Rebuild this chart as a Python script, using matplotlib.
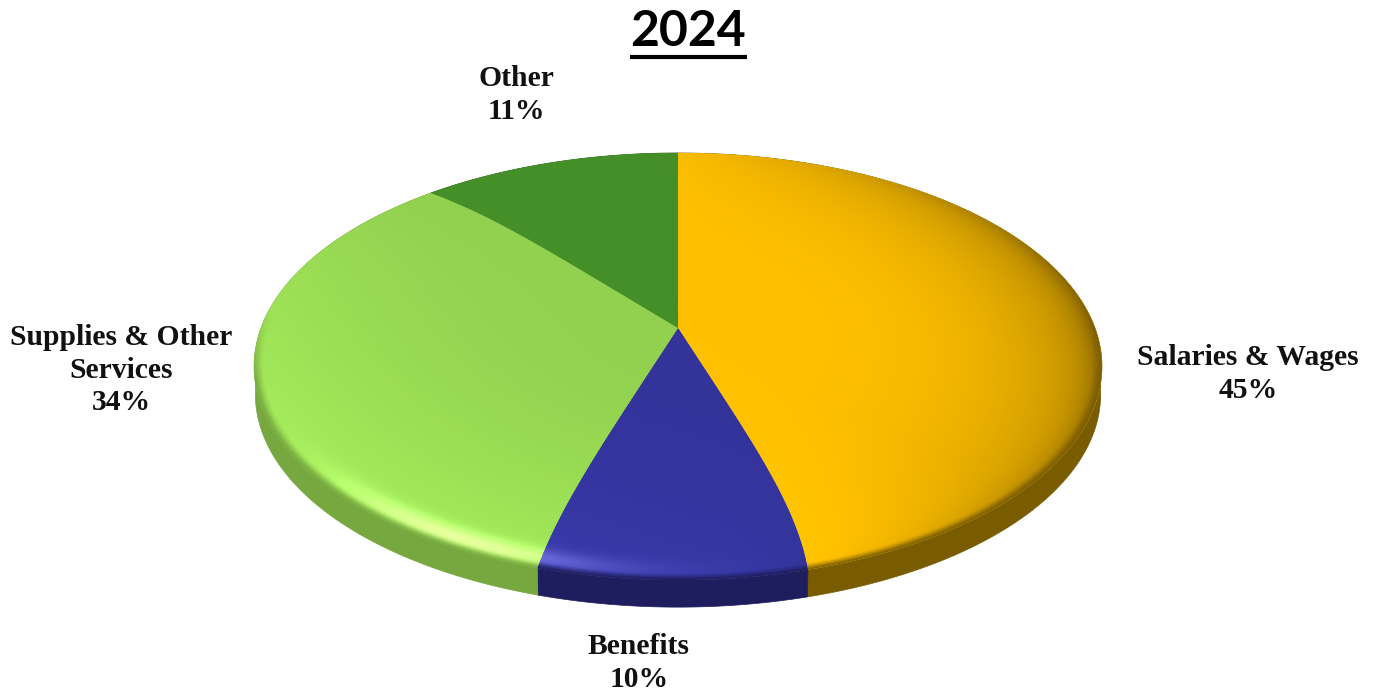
import numpy as np
import matplotlib
matplotlib.use("Agg")
import matplotlib.pyplot as plt
from matplotlib.colors import to_rgb
from matplotlib.patches import Polygon
from matplotlib.path import Path
from matplotlib.transforms import Affine2D, Transform

# Budget shares for the year
title = "2024"
categories = ["Salaries & Wages", "Benefits", "Supplies & Other\nServices", "Other"]
shares = [45, 10, 34, 11]
face_colors = ["#FFC000", "#333399", "#92D050", "#458F28"]
side_colors = ["#7A5C00", "#1E1E5E", "#76A83F", "#2C5C1A"]

# Tilted-disc projection: unit circle to figure pixels
APEX_X, APEX_Y = 678.0, 328.0
SCALE_X, SCALE_Y, TILT = 417.0, 206.6, 0.1803
DEPTH = 28.0


def bend(x, y):
    """Curve the slice edges slightly towards the rim, like a domed surface."""
    r = np.hypot(x, y)
    th = np.arctan2(x, y)
    sin_t, cos_t = np.sin(th), np.cos(th)
    degrees = np.where(sin_t > 0, 10.0 * sin_t, sin_t * (4.86 - 1.02 * cos_t))
    delta = np.radians(degrees) * r ** 4
    return r * np.sin(th + delta), r * np.cos(th + delta)


def project(x, y, drop=0.0):
    w = 1 + TILT * y
    return APEX_X + SCALE_X * x / w, APEX_Y - SCALE_Y * y / w + drop


def unproject(px, py):
    X, Y = px - APEX_X, APEX_Y - py
    y = Y / (SCALE_Y - TILT * Y)
    x = X * (1 + TILT * y) / SCALE_X
    return x, y


class DiscTransform(Transform):
    input_dims = output_dims = 2
    has_inverse = False

    def transform_non_affine(self, values):
        values = np.asarray(values, dtype=float)
        bx, by = bend(values[:, 0], values[:, 1])
        return np.column_stack(project(bx, by))

    def transform_path_non_affine(self, path):
        # flatten the wedge at high resolution, then refine its straight edges
        big = path.transformed(Affine2D().scale(2000))
        poly = big.to_polygons(closed_only=True)[0] / 2000
        seg = np.hypot(*np.diff(poly, axis=0).T)
        t = np.r_[0, np.cumsum(seg)]
        tt = np.unique(np.r_[t, np.linspace(0, t[-1], 600)])
        fine = np.column_stack([np.interp(tt, t, poly[:, 0]), np.interp(tt, t, poly[:, 1])])
        return Path(self.transform_non_affine(fine), closed=False)


fig = plt.figure(figsize=(13.81, 6.96), dpi=100, facecolor="white")
ax = fig.add_axes([0, 0, 1, 1])

wedges, _ = ax.pie(shares, colors=face_colors, startangle=90, counterclock=False, radius=1.0)
ax.set_aspect("auto")
ax.set_xlim(0, 1381)
ax.set_ylim(696, 0)
ax.axis("off")

disc = DiscTransform() + ax.transData

# Shading field over the disc surface
px, py = np.meshgrid(np.arange(240, 1120) + 0.5, np.arange(140, 620) + 0.5)
ux, uy = unproject(px, py)
r = np.clip(np.hypot(ux, uy), 0, 1.05)
ang = np.arctan2(uy, ux + 1e-9)
nx, ny = np.cos(ang), np.sin(ang)

shadow_dir = np.clip(nx + 0.1 * ny, 0, 1) ** 1.2
shadow = shadow_dir * (0.30 * r ** 4 + 0.22 * r ** 30 * np.clip(1 - 0.8 * ny, 0, 1))
lit = np.clip(-0.7071 * nx - 0.7071 * ny, 0, 1)
gain = 1 - shadow + 0.14 * lit * r ** 2
glint = np.clip(-0.45 * nx - 0.89 * ny, 0, 1) ** 20 * np.exp(-((r - 0.965) / 0.03) ** 2)
# lower rim rolls smoothly over into the side wall
roll = np.clip((r - 0.975) / 0.028, 0, 1)
roll = roll * roll * (3 - 2 * roll) * np.clip((0.1 - ny) / 0.35, 0, 1)

extent = (240, 1120, 620, 140)
for wedge, face, side in zip(wedges, face_colors, side_colors):
    # visible rim of the slice, below the top surface
    th = np.radians(np.linspace(wedge.theta1, wedge.theta2, 240))
    cx, cy = bend(np.cos(th), np.sin(th))
    upper = np.column_stack(project(cx, cy))
    lower = np.column_stack(project(cx * 0.997, cy * 0.997, DEPTH))
    ax.add_patch(Polygon(np.vstack([upper, lower[::-1]]), closed=True,
                         facecolor=side, edgecolor=side, lw=0.5, zorder=0.5))

    wedge.set_transform(disc)
    wedge.set_edgecolor("none")
    wedge.set_zorder(1)

    base = np.array(to_rgb(face))
    wall = np.array(to_rgb(side))
    rgb = base[None, None, :] * gain[..., None] + 0.28 * glint[..., None]
    rgb = np.clip(rgb, 0, 1) * (1 - roll[..., None]) + wall * roll[..., None]
    im = ax.imshow(np.clip(rgb, 0, 1), extent=extent, aspect="auto",
                   interpolation="bilinear", zorder=2)
    im.set_clip_path(wedge)

ax.set_xlim(0, 1381)
ax.set_ylim(696, 0)

# Slice labels
label_font = dict(family="Liberation Serif", fontweight="bold", fontsize=21.3,
                  color="#111111", ha="center", va="center", linespacing=1.27, zorder=5)
label_spots = [(1248, 374), (639, 663), (121, 370), (516, 95)]
for name, share, (lx, ly) in zip(categories, shares, label_spots):
    ax.text(lx, ly, f"{name}\n{share}%", **label_font)

# Underlined heading
ax.text(688, 31, title, family="Lato", fontweight="bold", fontsize=36,
        color="black", ha="center", va="center", zorder=5)
ax.plot([630, 747], [57, 57], color="black", lw=3.0, solid_capstyle="butt", zorder=5)

fig.savefig("out.png", dpi=100, facecolor="white")
